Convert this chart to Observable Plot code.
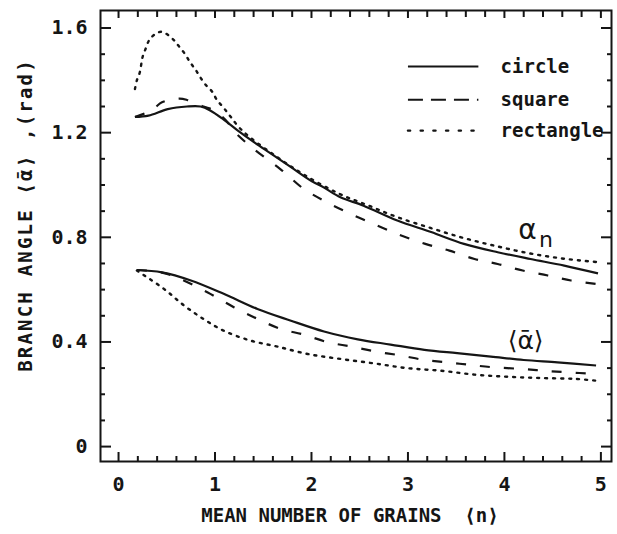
<!DOCTYPE html>
<html><head><meta charset="utf-8">
<script src="https://cdn.jsdelivr.net/npm/d3@7"></script>
<script src="https://cdn.jsdelivr.net/npm/@observablehq/plot@0.6"></script>
<style>body{margin:0;background:#fff} svg{display:block}</style>
</head><body><div id="chart"></div>
<script>
// ---- data ----
const circleUpperX = [0.17,0.31,0.51,0.71,0.85,0.95,1.09,1.23,1.40,1.58,1.78,2.00,2.13,2.30,2.54,2.89,3.24,3.58,3.93,4.27,4.62,4.97];
const circleUpperY = [1.26,1.265,1.29,1.30,1.30,1.285,1.25,1.21,1.165,1.12,1.07,1.015,0.99,0.953,0.921,0.864,0.82,0.775,0.743,0.717,0.692,0.662];

const squareUpperX = [0.17,0.28,0.38,0.45,0.63,0.71,0.88,0.99,1.13,1.19,1.40,1.68,1.92,2.16,2.41,2.68,2.93,3.18,3.43,3.69,3.93,4.19,4.45,4.69,4.95];
const squareUpperY = [1.26,1.275,1.297,1.316,1.33,1.325,1.30,1.285,1.24,1.208,1.138,1.06,0.985,0.934,0.889,0.845,0.807,0.775,0.749,0.717,0.698,0.673,0.654,0.635,0.622];

const rectUpperX = [0.17,0.19,0.22,0.25,0.28,0.32,0.38,0.44,0.50,0.57,0.62,0.69,0.74,0.80,0.85,0.91,0.97,1.02,1.09,1.16,1.25,1.37,1.65,1.92,2.29,2.60,2.89,3.24,3.58,3.93,4.27,4.62,4.97];
const rectUpperY = [1.367,1.40,1.43,1.49,1.52,1.555,1.577,1.586,1.577,1.555,1.533,1.50,1.47,1.44,1.41,1.38,1.357,1.325,1.295,1.262,1.22,1.18,1.105,1.04,0.966,0.92,0.877,0.835,0.797,0.765,0.738,0.718,0.705];

const circleLowerX = [0.19,0.45,0.75,1.09,1.44,1.78,2.13,2.48,2.82,3.17,3.51,3.86,4.20,4.55,4.95];
const circleLowerY = [0.675,0.666,0.635,0.584,0.526,0.482,0.44,0.41,0.39,0.37,0.357,0.344,0.331,0.322,0.31];

const squareLowerX = [0.19,0.45,0.64,0.92,1.20,1.44,1.68,1.92,2.17,2.42,2.67,2.93,3.17,3.41,3.65,3.89,4.17,4.41,4.65,4.95];
const squareLowerY = [0.675,0.665,0.641,0.59,0.532,0.488,0.45,0.428,0.399,0.382,0.363,0.348,0.331,0.322,0.312,0.303,0.297,0.29,0.284,0.278];

const rectLowerX = [0.19,0.47,0.68,0.88,1.09,1.37,1.65,1.96,2.30,2.65,2.99,3.34,3.69,4.03,4.38,4.72,4.95];
const rectLowerY = [0.673,0.603,0.539,0.488,0.443,0.405,0.382,0.354,0.335,0.318,0.30,0.29,0.275,0.267,0.262,0.259,0.252];

const seriesNames = ["circle","square","rectangle"];
const xTickValues = [0,1,2,3,4,5];
const xTickLabels = ["0","1","2","3","4","5"];
const yTickValues = [0,0.4,0.8,1.2,1.6];
const yTickLabels = ["0","0.4","0.8","1.2","1.6"];
const xLabel = "MEAN NUMBER OF GRAINS  ⟨n⟩";
const yLabel = "BRANCH ANGLE ⟨ᾱ⟩ ,(rad)";

// legend placement (in data units) and curve annotations
const legendLineX = [3.0, 3.73];
const legendTextX = 3.96;
const legendY = [1.453, 1.326, 1.208];
const annotations = [
  {text:"α", x:4.24, y:0.826, size:28},
  {text:"n", x:4.43, y:0.79, size:22},
  {text:"⟨ᾱ⟩", x:4.22, y:0.405, size:25}
];

// ---- build tables ----
const zip = (xs, ys) => xs.map((x,i) => ({x, y: ys[i]}));
const curves = [
  {name:"circle", pts: zip(circleUpperX, circleUpperY)},
  {name:"circle", pts: zip(circleLowerX, circleLowerY)},
  {name:"square", pts: zip(squareUpperX, squareUpperY)},
  {name:"square", pts: zip(squareLowerX, squareLowerY)},
  {name:"rectangle", pts: zip(rectUpperX, rectUpperY)},
  {name:"rectangle", pts: zip(rectLowerX, rectLowerY)}
];
const style = {
  circle: {strokeWidth: 2.2, strokeDasharray: null},
  square: {strokeWidth: 2.2, strokeDasharray: "10,14"},
  rectangle: {strokeWidth: 2.4, strokeDasharray: "2,6"}
};
const legendStyle = {
  circle: null, square: "15,8", rectangle: "2.2,10.5"
};

const W = 617, H = 534, mL = 100, mR = 6, mT = 10, mB = 73;
const iW = W - mL - mR, iH = H - mT - mB;
const ink = "#151515";
const mono = "'DejaVu Sans Mono', 'Liberation Mono', monospace";

const xMinor = d3.range(0, 5.001, 0.2).filter(v => Math.abs(v - Math.round(v)) > 1e-6);
const yMinor = d3.range(0, 1.6501, 0.1).filter(v => Math.abs(v*10 % 4) > 1e-6 && Math.abs(v*10 % 4 - 4) > 1e-6);

const marks = [];
for (const c of curves) {
  marks.push(Plot.line(c.pts, {x:"x", y:"y", curve:"catmull-rom", stroke: ink,
    strokeWidth: style[c.name].strokeWidth, strokeDasharray: style[c.name].strokeDasharray, strokeLinecap: c.name==="rectangle" ? "round" : "butt"}));
}
// legend
seriesNames.forEach((n, i) => {
  marks.push(Plot.line(legendLineX.map(x => ({x, y: legendY[i]})), {x:"x", y:"y", stroke: ink, strokeWidth: n==="rectangle"?2.4:2, strokeDasharray: legendStyle[n], strokeLinecap: n==="rectangle"?"round":"butt"}));
  marks.push(Plot.text([n], {x: legendTextX, y: legendY[i], text: d => d, textAnchor:"start", fontFamily: mono, fontWeight:"bold", fontSize: 19, fill: ink}));
});
// annotations
marks.push(Plot.text(annotations, {x:"x", y:"y", text:"text", fontSize: d => d.size, fontFamily:"'DejaVu Sans', sans-serif", fill: ink}));

// frame
marks.push(Plot.frame({stroke: ink, strokeWidth: 2}));
// ticks (inward, all four sides)
marks.push(Plot.tickX(xTickValues, {x: d => d, insetTop: iH - 9, stroke: ink, strokeWidth: 2}));
marks.push(Plot.tickX(xMinor, {x: d => d, insetTop: iH - 5, stroke: ink, strokeWidth: 2}));
marks.push(Plot.tickX(xTickValues, {x: d => d, insetBottom: iH - 8, stroke: ink, strokeWidth: 2}));
marks.push(Plot.tickX(xMinor, {x: d => d, insetBottom: iH - 7, stroke: ink, strokeWidth: 2}));
marks.push(Plot.tickY(yTickValues, {y: d => d, insetRight: iW - 11, stroke: ink, strokeWidth: 2}));
marks.push(Plot.tickY(yMinor, {y: d => d, insetRight: iW - 5, stroke: ink, strokeWidth: 2}));
marks.push(Plot.tickY(yTickValues, {y: d => d, insetLeft: iW - 10, stroke: ink, strokeWidth: 2}));
marks.push(Plot.tickY(yMinor, {y: d => d, insetLeft: iW - 4, stroke: ink, strokeWidth: 2}));
// tick labels
marks.push(Plot.text(xTickValues, {x: d => d, frameAnchor:"bottom", dy: 29, text: (d,i) => xTickLabels[i], fontFamily: mono, fontWeight:"bold", fontSize: 20, fill: ink}));
marks.push(Plot.text(yTickValues, {y: d => d, frameAnchor:"left", dx: -13, textAnchor:"end", text: (d,i) => yTickLabels[i], fontFamily: mono, fontWeight:"bold", fontSize: 20, fill: ink}));
// axis titles
marks.push(Plot.text([xLabel], {frameAnchor:"bottom", dx: -6, dy: 60, textAnchor:"middle", text: d => d, fontFamily: mono, fontWeight:"bold", fontSize: 19, fill: ink}));
marks.push(Plot.text([yLabel], {frameAnchor:"left", dx: -75, dy: -21, rotate: -90, textAnchor:"middle", text: d => d, fontFamily: mono, fontWeight:"bold", fontSize: 19, fill: ink}));

const chart = Plot.plot({
  width: W, height: H,
  marginLeft: mL, marginRight: mR, marginTop: mT, marginBottom: mB,
  x: {domain: [-0.187, 5.11], axis: null},
  y: {domain: [-0.057, 1.667], axis: null},
  style: {background: "#fff"},
  marks
});
chart.querySelectorAll("text").forEach(t => {
  if (t.textContent === yLabel) t.setAttribute("letter-spacing", "2.2");
});
document.getElementById("chart").append(chart);
</script>
</body></html>
